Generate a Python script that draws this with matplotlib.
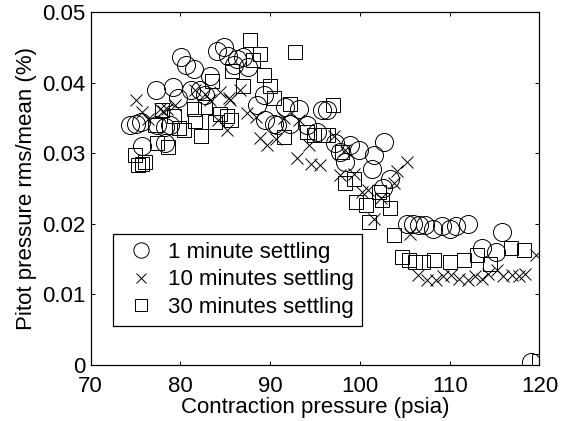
import matplotlib
matplotlib.use("Agg")
import matplotlib.pyplot as plt

plt.rcParams['font.family'] = ['Liberation Sans', 'DejaVu Sans']

# 1 minute settling (circles)
x1 = [74.4, 75.1, 75.6, 75.7, 77.3, 77.4, 78.3, 78.3, 78.8, 79.2, 79.7, 80.1, 80.6, 81.2, 81.5,
      82.2, 82.7, 83.3, 84.1, 84.9, 85.3, 86.0, 86.3, 87.0, 87.5, 88.5, 89.3, 89.4, 90.4, 90.8,
      91.7, 92.2, 93.2, 94.1, 95.2, 95.8, 96.3, 97.2, 97.8, 98.4, 98.9, 99.9, 101.4, 101.6,
      102.6, 102.7, 103.4, 105.2, 105.9, 106.6, 107.3, 108.2, 109.2, 110.0, 110.7, 112.1,
      113.6, 115.2, 115.8, 119.1]
y1 = [3.40, 3.42, 3.44, 3.10, 3.89, 3.40, 3.37, 3.14, 3.40, 3.94, 3.78, 4.36, 4.25, 3.89, 4.20,
      3.89, 3.82, 4.10, 4.45, 4.50, 4.38, 4.25, 4.34, 4.36, 4.22, 3.68, 3.82, 3.47, 3.42, 3.40,
      3.66, 3.42, 3.63, 3.40, 3.30, 3.61, 3.61, 3.14, 3.02, 2.88, 3.11, 3.04, 2.78, 2.97,
      2.50, 3.16, 2.64, 2.00, 2.00, 1.98, 1.98, 1.93, 1.96, 1.93, 1.96, 2.00,
      1.66, 1.60, 1.88, 0.04]

# 10 minutes settling (crosses)
x10 = [75.1, 75.7, 76.4, 77.7, 78.1, 78.5, 79.4, 81.6, 82.7, 83.3, 84.2, 84.4, 85.2, 85.4, 85.5,
       86.6, 87.4, 88.4, 88.9, 89.6, 90.7, 91.6, 93.2, 93.0, 94.3, 94.6, 95.6, 97.1, 97.8,
       98.4, 99.3, 100.2, 100.9, 101.6, 102.4, 103.8, 104.1, 105.2, 105.6, 106.5, 107.5,
       108.5, 109.3, 110.2, 111.0, 112.0, 112.8, 113.6, 114.3, 115.3, 116.0, 116.9, 117.7,
       118.4, 119.6]
y10 = [3.75, 3.59, 3.49, 3.62, 3.60, 3.62, 3.68, 3.89, 3.84, 3.75, 3.47, 3.87, 3.33, 3.78, 3.75,
       3.89, 3.57, 3.51, 3.21, 3.12, 3.20, 3.50, 3.47, 2.93, 3.12, 2.84, 2.83, 3.25, 2.69,
       3.04, 2.71, 2.45, 2.48, 2.07, 2.36, 2.57, 2.74, 2.88, 1.85, 1.27, 1.20,
       1.20, 1.25, 1.27, 1.22, 1.20, 1.25, 1.22, 1.28, 1.34, 1.25, 1.27, 1.25,
       1.29, 1.55]

# 30 minutes settling (squares)
x30 = [75.0, 75.3, 75.7, 76.1, 77.2, 77.4, 78.0, 78.6, 79.3, 79.9, 80.4, 81.5, 81.6, 82.3, 82.8,
       83.5, 83.9, 84.4, 85.2, 85.6, 85.8, 87.0, 87.8, 88.1, 88.9, 89.3, 90.0, 90.4, 91.5,
       92.2, 92.8, 94.1, 94.9, 95.9, 96.5, 97.0, 98.0, 98.4, 99.3, 99.6, 100.7, 101.0, 102.1,
       102.5, 103.4, 103.8, 104.7, 105.5, 106.1, 107.0, 108.3, 110.0, 111.6, 113.1, 114.5,
       116.8, 118.3, 120.0]
y30 = [2.97, 2.83, 2.85, 2.87, 3.40, 3.14, 3.61, 3.09, 3.53, 3.35, 3.33, 3.63, 3.45, 3.24, 3.66,
       4.03, 3.44, 3.56, 3.53, 3.47, 4.17, 3.96, 4.60, 4.32, 4.41, 4.11, 3.96, 3.78, 3.23,
       3.70, 4.44, 3.30, 3.26, 3.26, 3.26, 3.68, 3.02, 2.57, 2.64, 2.31, 2.26, 2.03, 2.45,
       2.33, 2.22, 1.84, 1.53, 1.48, 1.46, 1.46, 1.49, 1.46, 1.48, 1.55, 1.43,
       1.66, 1.63, 0.05]

labels = ['1 minute settling', '10 minutes settling', '30 minutes settling']
xticks = [70, 80, 90, 100, 110, 120]
yticks = [0, 0.01, 0.02, 0.03, 0.04, 0.05]
yticklabels = ['0', '0.01', '0.02', '0.03', '0.04', '0.05']

FS = 16

fig = plt.figure(figsize=(5.66, 4.21), dpi=100)
ax = fig.add_axes([0.160, 0.134, 0.793, 0.837])

ew = 0.7
ax.plot(x1, [v / 100 for v in y1], linestyle='none', marker='o', ms=13, mfc='none',
        mec='black', mew=ew, label=labels[0])
ax.plot(x10, [v / 100 for v in y10], linestyle='none', marker='x', ms=9, mfc='none',
        mec='black', mew=ew, label=labels[1])
ax.plot(x30, [v / 100 for v in y30], linestyle='none', marker='s', ms=10, mfc='none',
        mec='black', mew=ew, label=labels[2])

ax.set_xlim(70, 120)
ax.set_ylim(0, 0.05)
ax.set_xticks(xticks)
ax.set_yticks(yticks)
ax.set_yticklabels(yticklabels)
ax.tick_params(direction='in', top=True, right=True, length=3, width=0.7,
               labelsize=FS)
ax.tick_params(axis='x', pad=8)
ax.tick_params(axis='y', pad=4)
for s in ax.spines.values():
    s.set_linewidth(0.9)

ax.set_xlabel('Contraction pressure (psia)', fontsize=FS, labelpad=0)
ax.set_ylabel('Pitot pressure rms/mean (%)', fontsize=FS, labelpad=3)

leg = ax.legend(loc='lower left', bbox_to_anchor=(0.049, 0.110), borderaxespad=0,
                fancybox=False, edgecolor='black', framealpha=1, fontsize=FS,
                handlelength=1.9, handletextpad=0.25, labelspacing=0.3,
                borderpad=0.35, markerscale=0.85)
leg.get_frame().set_linewidth(0.9)

fig.savefig('out.png', dpi=100)
